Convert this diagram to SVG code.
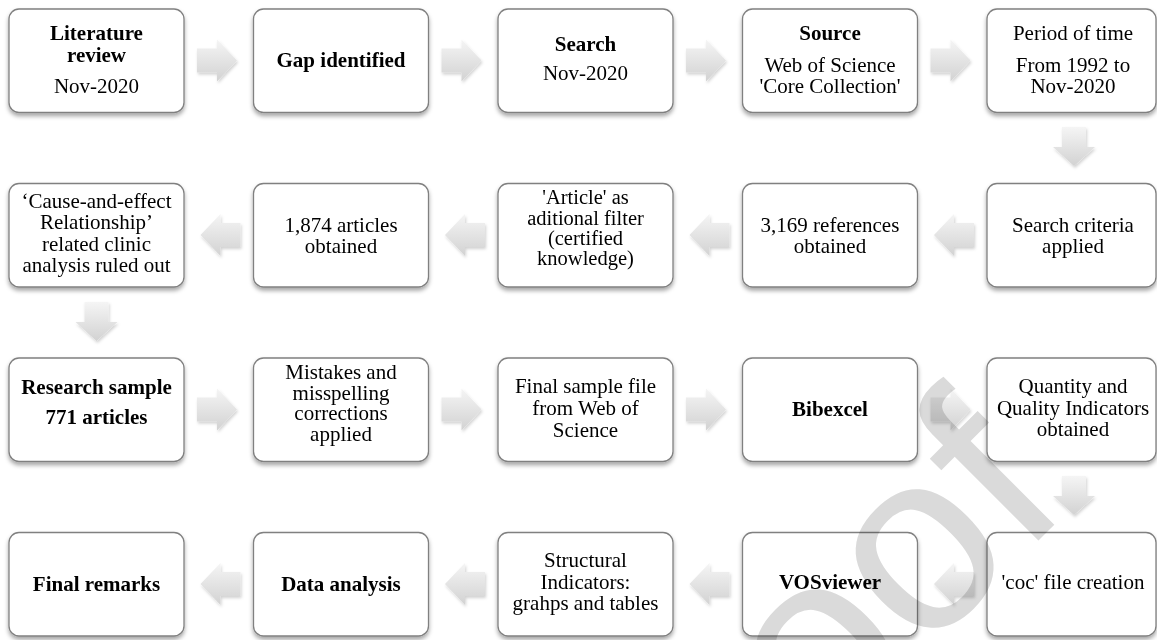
<svg xmlns="http://www.w3.org/2000/svg" width="1157" height="640" viewBox="0 0 1157 640">
<defs>
<style>
.box{fill:#ffffff;stroke:#808080;stroke-width:1.3;filter:url(#sh)}
.t{font-family:"Liberation Serif","Times New Roman",serif;font-size:21px;fill:#000;text-anchor:middle}
.b{font-weight:bold}
.arr{fill:url(#ag);filter:url(#ash)}
.wm{font-family:"Liberation Sans",Arial,sans-serif;font-size:255px;fill:#dadada;mix-blend-mode:multiply}
</style>
<linearGradient id="ag" x1="0" y1="0" x2="0" y2="1">
<stop offset="0" stop-color="#f5f5f5"/>
<stop offset="1" stop-color="#d2d2d2"/>
</linearGradient>
<filter id="sh" x="-10%" y="-10%" width="120%" height="130%">
<feDropShadow dx="0" dy="3" stdDeviation="2" flood-color="#000" flood-opacity="0.35"/>
</filter>
<filter id="ash" x="-20%" y="-20%" width="150%" height="150%">
<feDropShadow dx="1" dy="2" stdDeviation="1.5" flood-color="#000" flood-opacity="0.18"/>
</filter>
</defs>
<rect width="1157" height="640" fill="#ffffff"/>

<g id="connectors">
<path class="arr" d="M197,48.5H217V39.5L237,60.5L217,81.5V72.5H197Z"/>
<path class="arr" d="M441.5,48.5H461.5V39.5L481.5,60.5L461.5,81.5V72.5H441.5Z"/>
<path class="arr" d="M686,48.5H706V39.5L726,60.5L706,81.5V72.5H686Z"/>
<path class="arr" d="M930.5,48.5H950.5V39.5L970.5,60.5L950.5,81.5V72.5H930.5Z"/>
<path class="arr" d="M1062,127V147H1053L1074,166L1095,147H1086V127Z"/>
<path class="arr" d="M974,223H954V214L934,235L954,256V247H974Z"/>
<path class="arr" d="M729.5,223H709.5V214L689.5,235L709.5,256V247H729.5Z"/>
<path class="arr" d="M485,223H465V214L445,235L465,256V247H485Z"/>
<path class="arr" d="M240.5,223H220.5V214L200.5,235L220.5,256V247H240.5Z"/>
<path class="arr" d="M84.5,302V322H75.5L96.5,341L117.5,322H108.5V302Z"/>
<path class="arr" d="M197,397.5H217V388.5L237,409.5L217,430.5V421.5H197Z"/>
<path class="arr" d="M441.5,397.5H461.5V388.5L481.5,409.5L461.5,430.5V421.5H441.5Z"/>
<path class="arr" d="M686,397.5H706V388.5L726,409.5L706,430.5V421.5H686Z"/>
<path class="arr" d="M930.5,397.5H950.5V388.5L970.5,409.5L950.5,430.5V421.5H930.5Z"/>
<path class="arr" d="M1062,476V496H1053L1074,515L1095,496H1086V476Z"/>
<path class="arr" d="M974,572H954V563L934,584L954,605V596H974Z"/>
<path class="arr" d="M729.5,572H709.5V563L689.5,584L709.5,605V596H729.5Z"/>
<path class="arr" d="M485,572H465V563L445,584L465,605V596H485Z"/>
<path class="arr" d="M240.5,572H220.5V563L200.5,584L220.5,605V596H240.5Z"/>
</g>

<g id="n1">
<rect class="box" x="9" y="9" width="175" height="103.5" rx="10"/>
<text class="t b" x="96.5" y="40">Literature</text>
<text class="t b" x="96.5" y="62">review</text>
<text class="t" x="96.5" y="93">Nov-2020</text>
</g>
<g id="n2">
<rect class="box" x="253.5" y="9" width="175" height="103.5" rx="10"/>
<text class="t b" x="341" y="67">Gap identified</text>
</g>
<g id="n3">
<rect class="box" x="498" y="9" width="175" height="103.5" rx="10"/>
<text class="t b" x="585.5" y="51">Search</text>
<text class="t" x="585.5" y="80">Nov-2020</text>
</g>
<g id="n4">
<rect class="box" x="742.5" y="9" width="175" height="103.5" rx="10"/>
<text class="t b" x="830" y="40">Source</text>
<text class="t" x="830" y="71.5">Web of Science</text>
<text class="t" x="830" y="93">'Core Collection'</text>
</g>
<g id="n5">
<rect class="box" x="987" y="9" width="169" height="103.5" rx="10"/>
<text class="t" x="1073" y="40">Period of time</text>
<text class="t" x="1073" y="71.5">From 1992 to</text>
<text class="t" x="1073" y="93">Nov-2020</text>
</g>

<g id="n6">
<rect class="box" x="987" y="183.5" width="169" height="103.5" rx="10"/>
<text class="t" x="1073" y="231.5">Search criteria</text>
<text class="t" x="1073" y="252.5">applied</text>
</g>
<g id="n7">
<rect class="box" x="742.5" y="183.5" width="175" height="103.5" rx="10"/>
<text class="t" x="830" y="231.5">3,169 references</text>
<text class="t" x="830" y="252.5">obtained</text>
</g>
<g id="n8">
<rect class="box" x="498" y="183.5" width="175" height="103.5" rx="10"/>
<text class="t" x="585.5" y="204" style="font-size:20.5px">'Article' as</text>
<text class="t" x="585.5" y="224.5" style="font-size:20.5px">aditional filter</text>
<text class="t" x="585.5" y="245" style="font-size:20.5px">(certified</text>
<text class="t" x="585.5" y="265" style="font-size:20.5px">knowledge)</text>
</g>
<g id="n9">
<rect class="box" x="253.5" y="183.5" width="175" height="103.5" rx="10"/>
<text class="t" x="341" y="231.5">1,874 articles</text>
<text class="t" x="341" y="252.5">obtained</text>
</g>
<g id="n10">
<rect class="box" x="9" y="183.5" width="175" height="103.5" rx="10"/>
<text class="t" x="96.5" y="207.5">‘Cause-and-effect</text>
<text class="t" x="96.5" y="229">Relationship’</text>
<text class="t" x="96.5" y="250.5">related clinic</text>
<text class="t" x="96.5" y="272">analysis ruled out</text>
</g>

<g id="n11">
<rect class="box" x="9" y="358" width="175" height="103.5" rx="10"/>
<text class="t b" x="96.5" y="394">Research sample</text>
<text class="t b" x="96.5" y="424">771 articles</text>
</g>
<g id="n12">
<rect class="box" x="253.5" y="358" width="175" height="103.5" rx="10"/>
<text class="t" x="341" y="379">Mistakes and</text>
<text class="t" x="341" y="399.5">misspelling</text>
<text class="t" x="341" y="420">corrections</text>
<text class="t" x="341" y="440.5">applied</text>
</g>
<g id="n13">
<rect class="box" x="498" y="358" width="175" height="103.5" rx="10"/>
<text class="t" x="585.5" y="393">Final sample file</text>
<text class="t" x="585.5" y="415">from Web of</text>
<text class="t" x="585.5" y="436.5">Science</text>
</g>
<g id="n14">
<rect class="box" x="742.5" y="358" width="175" height="103.5" rx="10"/>
<text class="t b" x="830" y="416">Bibexcel</text>
</g>
<g id="n15">
<rect class="box" x="987" y="358" width="169" height="103.5" rx="10"/>
<text class="t" x="1073" y="393">Quantity and</text>
<text class="t" x="1073" y="414.5">Quality Indicators</text>
<text class="t" x="1073" y="436">obtained</text>
</g>

<g id="n16">
<rect class="box" x="987" y="532.5" width="169" height="103.5" rx="10"/>
<text class="t" x="1073" y="589">'coc' file creation</text>
</g>
<g id="n17">
<rect class="box" x="742.5" y="532.5" width="175" height="103.5" rx="10"/>
<text class="t b" x="830" y="589">VOSviewer</text>
</g>
<g id="n18">
<rect class="box" x="498" y="532.5" width="175" height="103.5" rx="10"/>
<text class="t" x="585.5" y="567">Structural</text>
<text class="t" x="585.5" y="588.5">Indicators:</text>
<text class="t" x="585.5" y="610">grahps and tables</text>
</g>
<g id="n19">
<rect class="box" x="253.5" y="532.5" width="175" height="103.5" rx="10"/>
<text class="t b" x="341" y="590.5">Data analysis</text>
</g>
<g id="n20">
<rect class="box" x="9" y="532.5" width="175" height="103.5" rx="10"/>
<text class="t b" x="96.5" y="590.5">Final remarks</text>
</g>

<text class="wm" transform="translate(762,817) rotate(-45)">roof</text>
</svg>
